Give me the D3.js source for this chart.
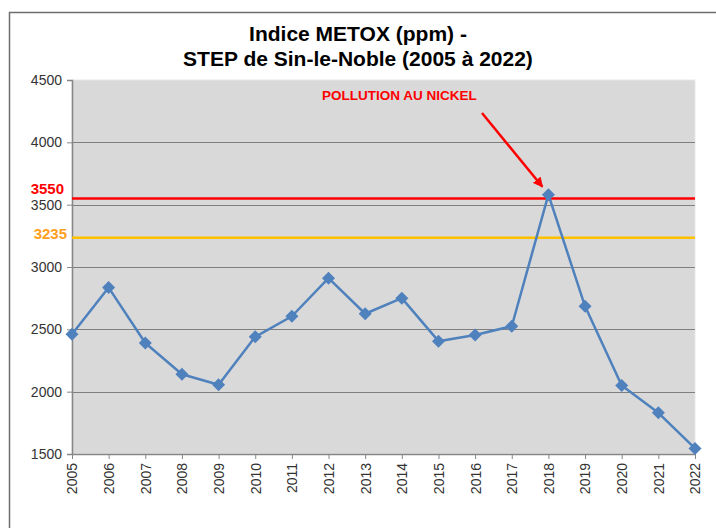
<!DOCTYPE html>
<html>
<head>
<meta charset="utf-8">
<script src="https://cdn.jsdelivr.net/npm/d3@7"></script>
<style>
  body { margin: 0; background: #fff; }
  svg { display: block; font-family: "Liberation Sans", Arial, sans-serif; }
</style>
</head>
<body>
<svg width="716" height="528"></svg>
<script>
const years = [2005, 2006, 2007, 2008, 2009, 2010, 2011, 2012, 2013, 2014,
  2015, 2016, 2017, 2018, 2019, 2020, 2021, 2022];
const metox = [2460, 2835, 2390, 2140, 2055, 2440, 2605, 2910, 2625, 2750,
  2405, 2455, 2525, 3580, 2685, 2050, 1830, 1545];
const yTicks = [1500, 2000, 2500, 3000, 3500, 4000, 4500];
const limits = [
  { value: 3550, line: '#ff0000', label: '#ff0000', lx: 64, dy: -4 },
  { value: 3235, line: '#ffc000', label: '#ffa020', lx: 67, dy: 1 }
];
const titleLines = ['Indice METOX (ppm) -', 'STEP de Sin-le-Noble (2005 à 2022)'];
const annotation = 'POLLUTION AU NICKEL';

const svg = d3.select('svg');
const plot = { left: 72, right: 695, top: 80, bottom: 454 };

const x = d3.scalePoint()
  .domain(years)
  .range([plot.left, plot.right]);

const y = d3.scaleLinear()
  .domain([1500, 4500])
  .range([plot.bottom, plot.top]);

// outer frame
svg.append('path')
  .attr('d', 'M9.5,528 V12.5 H716')
  .attr('fill', 'none')
  .attr('stroke', '#6e6e6e')
  .attr('stroke-width', 1.5);

// title
svg.append('text')
  .attr('text-anchor', 'middle')
  .style('font-weight', 'bold')
  .style('font-size', '21px')
  .attr('fill', '#000')
  .selectAll('tspan')
  .data(titleLines)
  .enter()
  .append('tspan')
  .attr('x', 358)
  .attr('y', (d, i) => 41 + i * 25)
  .text(d => d);

// plot background
svg.append('rect')
  .attr('x', plot.left)
  .attr('y', plot.top)
  .attr('width', plot.right - plot.left)
  .attr('height', plot.bottom - plot.top)
  .attr('fill', '#d9d9d9')
  .attr('stroke', '#e8e8e8')
  .attr('stroke-width', 1);

// gridlines
svg.append('g')
  .selectAll('line')
  .data(yTicks.filter(d => d > 1500 && d < 4500))
  .enter()
  .append('line')
  .attr('x1', plot.left)
  .attr('x2', plot.right)
  .attr('y1', d => Math.round(y(d)) + 0.5)
  .attr('y2', d => Math.round(y(d)) + 0.5)
  .attr('stroke', '#7f7f7f')
  .attr('stroke-width', 1.2);

function styleAxis(g) {
  g.attr('font-size', null).attr('font-family', null);
  g.select('.domain').attr('stroke', '#868686').attr('stroke-width', 1.5);
  g.selectAll('.tick line').attr('stroke', '#868686');
  g.selectAll('.tick text')
    .style('font-size', '14px')
    .style('font-family', '"Liberation Sans", Arial, sans-serif')
    .attr('fill', '#333');
}

// y axis
const yAxis = svg.append('g')
  .attr('transform', `translate(${plot.left},0)`)
  .call(d3.axisLeft(y).tickValues(yTicks).tickSize(5).tickPadding(5).tickFormat(d3.format('d')))
  .call(styleAxis);

// x axis
const xAxis = svg.append('g')
  .attr('transform', `translate(0,${plot.bottom})`)
  .call(d3.axisBottom(x).tickSize(5).tickSizeOuter(0))
  .call(styleAxis);
xAxis.selectAll('.tick text')
  .attr('text-anchor', 'end')
  .attr('dy', '0.35em')
  .attr('transform', 'translate(0,3) rotate(-90)')
  .attr('x', -6)
  .attr('y', 0);

// threshold lines and labels
svg.append('g')
  .selectAll('line')
  .data(limits)
  .enter()
  .append('line')
  .attr('x1', plot.left)
  .attr('x2', plot.right)
  .attr('y1', d => y(d.value))
  .attr('y2', d => y(d.value))
  .attr('stroke', d => d.line)
  .attr('stroke-width', 2.5);

svg.append('g')
  .selectAll('text')
  .data(limits)
  .enter()
  .append('text')
  .attr('x', d => d.lx)
  .attr('y', d => y(d.value) + d.dy)
  .attr('text-anchor', 'end')
  .style('font-size', '15px')
  .style('font-weight', 'bold')
  .attr('fill', d => d.label)
  .text(d => d.value);

// series
const points = years.map((yr, i) => ({ year: yr, value: metox[i] }));

svg.append('path')
  .datum(points)
  .attr('fill', 'none')
  .attr('stroke', '#4f81bd')
  .attr('stroke-width', 2.5)
  .attr('stroke-linejoin', 'round')
  .attr('d', d3.line().x(d => x(d.year)).y(d => y(d.value)));

svg.append('g')
  .selectAll('path')
  .data(points)
  .enter()
  .append('path')
  .attr('transform', d => `translate(${x(d.year)},${y(d.value)})`)
  .attr('d', 'M0,-6.5 L6.5,0 L0,6.5 L-6.5,0 Z')
  .attr('fill', '#4f81bd');

// annotation
const peak = points[years.indexOf(2018)];
svg.append('defs')
  .append('marker')
  .attr('id', 'arrow')
  .attr('viewBox', '0 0 10 10')
  .attr('refX', 9)
  .attr('refY', 5)
  .attr('markerWidth', 4)
  .attr('markerHeight', 4)
  .attr('orient', 'auto')
  .append('path')
  .attr('d', 'M0,0 L10,5 L0,10 Z')
  .attr('fill', '#ff0000');

svg.append('line')
  .attr('x1', 482)
  .attr('y1', 113)
  .attr('x2', x(peak.year) - 6)
  .attr('y2', y(peak.value) - 8)
  .attr('stroke', '#ff0000')
  .attr('stroke-width', 2.5)
  .attr('marker-end', 'url(#arrow)');

svg.append('text')
  .attr('x', 322)
  .attr('y', 100)
  .style('font-size', '13.5px')
  .style('font-weight', 'bold')
  .attr('fill', '#ff0000')
  .text(annotation);
</script>
</body>
</html>
